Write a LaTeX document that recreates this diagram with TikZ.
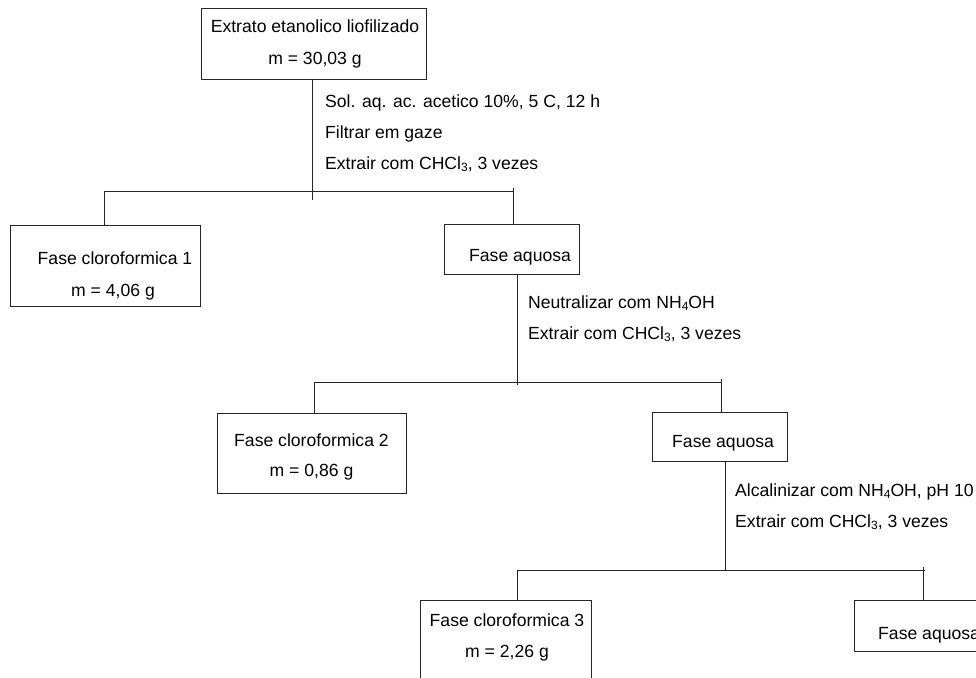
\documentclass[tikz,border=0pt]{standalone}
\usepackage{fontspec}
\setmainfont{Liberation Sans}
\newcommand{\chemsub}[1]{\raisebox{-0.32ex}{\fontsize{12}{12}\selectfont #1}}
\begin{document}
\begin{tikzpicture}[x=1pt,y=-1pt,
  box/.style={draw=black!85, line width=0.9pt, rectangle, inner sep=0pt, outer sep=0pt},
  txt/.style={font=\fontsize{17.6}{20}\selectfont, inner sep=0pt, anchor=base},
  lbl/.style={font=\fontsize{17.6}{20}\selectfont, inner sep=0pt, anchor=base west},
  conn/.style={draw=black!85, line width=0.9pt}]
\clip (0,0) rectangle (976,677);
\fill[white] (0,0) rectangle (976,677);
% boxes
\node[box, minimum width=225pt, minimum height=71pt] (b1) at (313.5,43.5) {};
\node[box, minimum width=190pt, minimum height=81pt] (fc1) at (105,265.5) {};
\node[box, minimum width=135pt, minimum height=50pt] (aq1) at (511.5,249) {};
\node[box, minimum width=189pt, minimum height=80pt] (fc2) at (311.5,453) {};
\node[box, minimum width=135pt, minimum height=49pt] (aq2) at (719.5,436.5) {};
\node[box, minimum width=171pt, minimum height=100pt] (fc3) at (505.5,650) {};
\node[box, minimum width=146pt, minimum height=51pt] (aq3) at (927,625.5) {};
% box texts
\node[txt] (b1a) at (315,33) {Extrato etanolico liofilizado};
\node[txt] (b1b) at (315,64) {m = 30,03 g};
\node[txt] (fc1a) at (115,264) {Fase cloroformica 1};
\node[txt] (fc1b) at (113,296) {m = 4,06 g};
\node[lbl] (aq1a) at (469,261) {Fase aquosa};
\node[txt] (fc2a) at (311.5,446) {Fase cloroformica 2};
\node[txt] (fc2b) at (311.5,476) {m = 0,86 g};
\node[lbl] (aq2a) at (672,447) {Fase aquosa};
\node[txt] (fc3a) at (507,626) {Fase cloroformica 3};
\node[txt] (fc3b) at (507,657) {m = 2,26 g};
\node[lbl] (aq3a) at (878,639) {Fase aquosa};
% step labels
\node[lbl] (l1a) at (325,107) {Sol. aq. ac. acetico 10\%, 5 C, 12 h};
\node[lbl] (l1b) at (325,138) {Filtrar em gaze};
\node[lbl] (l1c) at (325,169) {Extrair com CHCl\chemsub{3}, 3 vezes};
\node[lbl] (l2a) at (528,308) {Neutralizar com NH\chemsub{4}OH};
\node[lbl] (l2b) at (528,339) {Extrair com CHCl\chemsub{3}, 3 vezes};
\node[lbl] (l3a) at (735,496) {Alcalinizar com NH\chemsub{4}OH, pH 10};
\node[lbl] (l3b) at (735,527) {Extrair com CHCl\chemsub{3}, 3 vezes};
% connector coordinates
\coordinate (s1) at (312,200);
\coordinate (bl1) at (104,191);
\coordinate (br1) at (513,191);
\coordinate (bt1) at (513,188);
\coordinate (s2) at (517,385);
\coordinate (bl2) at (314,382);
\coordinate (br2) at (721,382);
\coordinate (bt2) at (721,379);
\coordinate (s3) at (725,570);
\coordinate (bl3) at (517,570);
\coordinate (br3) at (925,570);
\coordinate (bt3) at (923,567);
% level 1
\draw[conn] (b1.south -| s1) -- (s1);
\draw[conn] (fc1.north -| bl1) -- (bl1) -- (br1);
\draw[conn] (bt1) -- (aq1.north -| bt1);
% level 2
\draw[conn] (aq1.south -| s2) -- (s2);
\draw[conn] (fc2.north -| bl2) -- (bl2) -- (br2);
\draw[conn] (bt2) -- (aq2.north -| bt2);
% level 3
\draw[conn] (aq2.south -| s3) -- (s3);
\draw[conn] (fc3.north -| bl3) -- (bl3) -- (br3);
\draw[conn] (bt3) -- (aq3.north -| bt3);
\end{tikzpicture}
\end{document}
